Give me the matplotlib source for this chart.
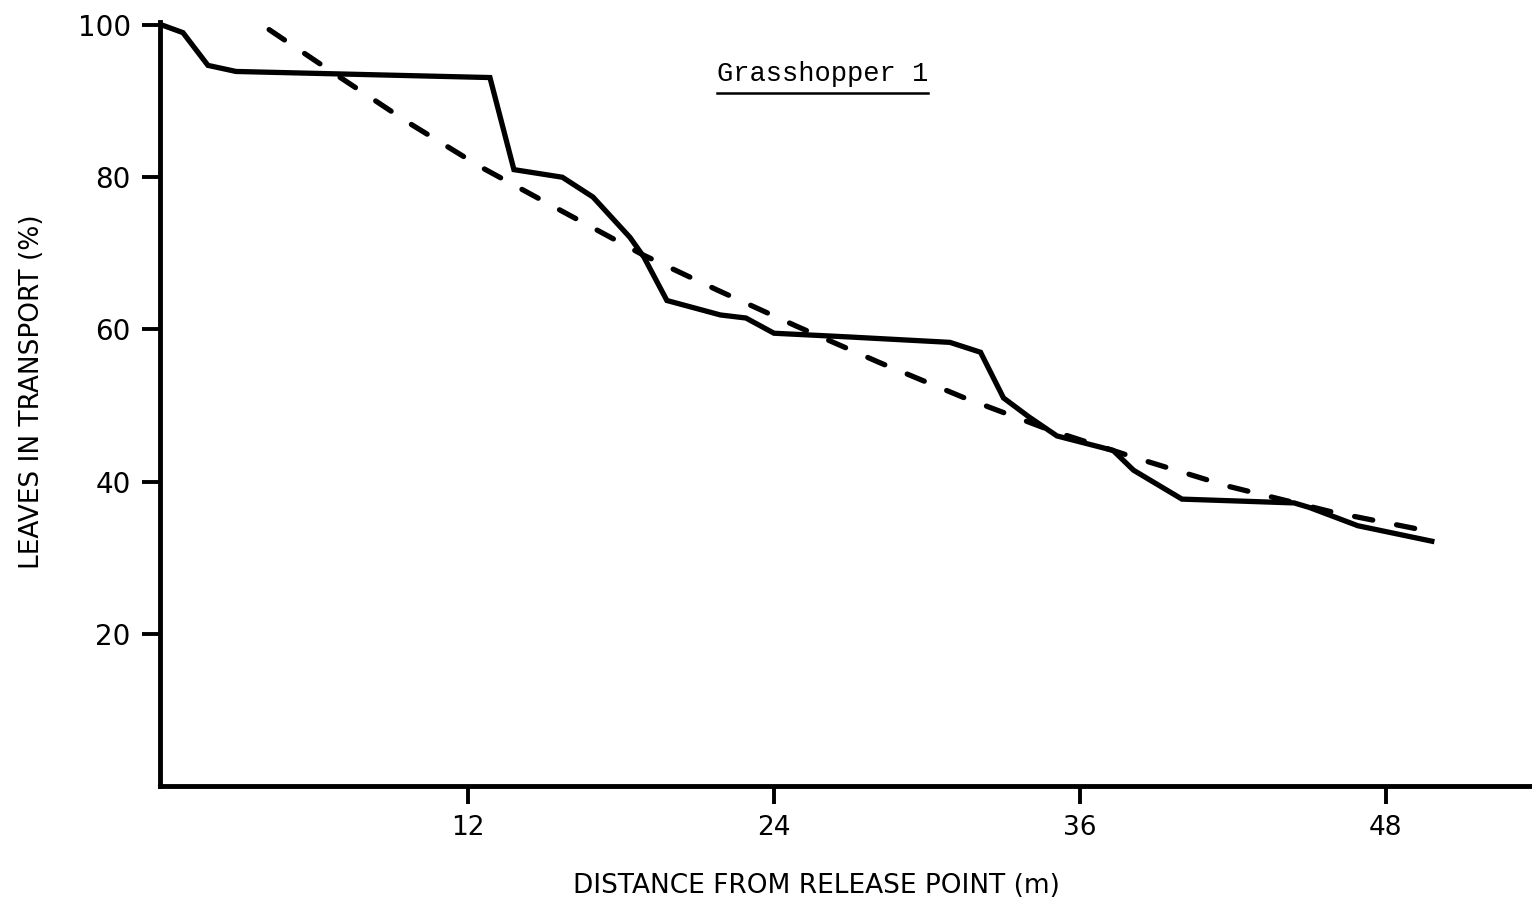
import matplotlib
matplotlib.use("Agg")
import matplotlib.pyplot as plt
from matplotlib.lines import Line2D

# Observed data (solid line)
obs_x = [0.0, 0.82, 1.8, 2.9, 12.86, 13.8, 15.7, 16.9, 18.35, 18.9, 19.8, 21.9, 22.9,
         24.0, 27.0, 30.9, 32.1, 33.0, 34.0, 35.1, 37.3, 38.1, 40.0, 44.4, 45.0, 46.9, 49.9]
obs_y = [100.0, 99.0, 94.7, 93.9, 93.1, 81.0, 80.0, 77.4, 72.1, 69.5, 63.8, 61.9, 61.5,
         59.5, 59.0, 58.3, 57.0, 51.0, 48.5, 46.0, 44.1, 41.5, 37.7, 37.2, 36.6, 34.2, 32.1]

# Fitted curve (dashed line)
fit_x = [4.2, 6.86, 9.65, 12.47, 15.6, 18.86, 21.76, 24.9, 28.1, 31.4, 34.8, 38.3, 41.8, 45.9, 49.8]
fit_y = [99.4, 93.4, 87.2, 81.4, 75.7, 69.8, 65.2, 60.4, 55.7, 51.1, 46.8, 43.0, 39.4, 36.0, 33.4]

x_ticks = [12, 24, 36, 48]
y_ticks = [20, 40, 60, 80, 100]
title = "Grasshopper 1"
x_label = "DISTANCE FROM RELEASE POINT (m)"
y_label = "LEAVES IN TRANSPORT (%)"

W, H = 1532, 902
fig = plt.figure(figsize=(W / 100, H / 100), dpi=100)
ax = fig.add_axes([160 / W, 1 - 786 / H, (1530 - 160) / W, (786 - 22) / H])

ax.plot(obs_x, obs_y, color="black", lw=3.8, solid_joinstyle="miter", solid_capstyle="butt")
ax.plot(fit_x, fit_y, color="black", lw=3.8, dashes=(3.5, 4.6), dash_capstyle="round")

ax.set_xlim(-0.08, 53.65)
ax.set_ylim(0, 100.4)
for s in ["top", "right"]:
    ax.spines[s].set_visible(False)
for s in ["left", "bottom"]:
    ax.spines[s].set_linewidth(3.5)

narrow = ["Liberation Sans Narrow", "DejaVu Sans"]
ax.set_xticks(x_ticks)
ax.set_yticks(y_ticks)
ax.set_xticklabels([str(t) for t in x_ticks], fontsize=19, family=narrow)
ax.set_yticklabels([str(t) for t in y_ticks], fontsize=20, family="DejaVu Sans")
ax.tick_params(axis="both", direction="out", length=13, width=2.8, pad=8)

fig.text(816 / W, 1 - 886 / H, x_label, ha="center", va="center", fontsize=19, family=narrow)
fig.text(32 / W, 1 - 392 / H, y_label, ha="center", va="center", rotation=90, fontsize=19, family=narrow)

t = ax.text(25.9, 93.6, title, ha="center", va="center", fontsize=19.5, family="Liberation Mono")
fig.canvas.draw()
bb = t.get_window_extent()
y_line = bb.y0 - 6
fig.add_artist(Line2D([bb.x0 / W, bb.x1 / W], [y_line / H, y_line / H],
                      transform=fig.transFigure, color="black", lw=1.8))

fig.savefig("out.png", dpi=100)
